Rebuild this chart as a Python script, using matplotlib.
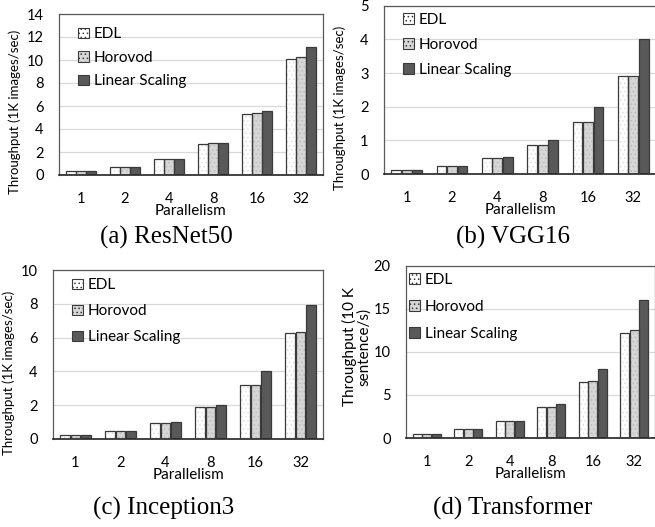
import numpy as np
import matplotlib.pyplot as plt
from matplotlib.patches import Patch

# Data
parallelism = ["1", "2", "4", "8", "16", "32"]

resnet_edl = [0.34, 0.69, 1.38, 2.70, 5.30, 10.10]
resnet_horovod = [0.34, 0.69, 1.38, 2.75, 5.35, 10.30]
resnet_linear = [0.35, 0.70, 1.40, 2.80, 5.55, 11.10]

vgg_edl = [0.125, 0.24, 0.48, 0.85, 1.55, 2.90]
vgg_horovod = [0.125, 0.24, 0.48, 0.85, 1.55, 2.92]
vgg_linear = [0.125, 0.25, 0.50, 1.00, 2.00, 4.00]

incep_edl = [0.25, 0.48, 0.97, 1.88, 3.22, 6.25]
incep_horovod = [0.25, 0.50, 0.97, 1.87, 3.20, 6.35]
incep_linear = [0.25, 0.50, 1.00, 2.00, 4.00, 7.90]

trans_edl = [0.50, 1.00, 1.95, 3.60, 6.50, 12.20]
trans_horovod = [0.50, 1.00, 1.95, 3.60, 6.65, 12.50]
trans_linear = [0.50, 1.00, 2.00, 4.00, 8.00, 16.00]

series_names = ["EDL", "Horovod", "Linear Scaling"]

plt.rcParams['font.family'] = ['Lato', 'DejaVu Sans']
plt.rcParams['hatch.linewidth'] = 0.6

fig = plt.figure(figsize=(6.55, 5.27), dpi=100)
W, H = 655.0, 527.0


def px_axes(left, top, right, bottom):
    return fig.add_axes([left / W, 1 - bottom / H, (right - left) / W, (bottom - top) / H])


styles = [
    dict(color="white", hatch="....", hatchcol="#e0e0e0"),
    dict(color="#d6d6d6", hatch="....", hatchcol="#bcbcbc"),
    dict(color="#595959", hatch=None, hatchcol="#595959"),
]


def draw_panel(ax, data, ymax, ystep, ylabel, caption, cap_x, cap_y,
               lab_x, lab_y, leg_dx, leg_dy, leg_sp, ylab_size=9.5):
    x = np.arange(len(parallelism))
    w = 0.215
    offs = [-0.232, 0.0, 0.232]
    for vals, st, off in zip(data, styles, offs):
        ax.bar(x + off, vals, w, color=st["color"], hatch=st["hatch"],
               edgecolor=st["hatchcol"], linewidth=0, zorder=2)
        ax.bar(x + off, vals, w, fill=False, edgecolor="#3a3a3a",
               linewidth=0.9, zorder=3)
    ax.set_xlim(-0.5, len(parallelism) - 0.5)
    ax.set_ylim(0, ymax)
    ax.set_yticks(np.arange(0, ymax + ystep / 2, ystep))
    ax.set_xticks(x)
    ax.set_xticklabels(parallelism)
    ax.tick_params(axis="both", length=0, labelsize=10.5, colors="black")
    ax.tick_params(axis="x", pad=12)
    ax.tick_params(axis="y", pad=11)
    ax.yaxis.grid(True, color="#d9d9d9", linewidth=0.9, zorder=0)
    ax.set_axisbelow(True)
    for s in ["left", "top", "right"]:
        ax.spines[s].set_color("#5a5a5a")
        ax.spines[s].set_linewidth(0.9)
    ax.spines["bottom"].set_color("#222222")
    ax.spines["bottom"].set_linewidth(1.2)
    ax.set_xlabel("Parallelism", fontsize=11, labelpad=-1)
    ax.set_ylabel(ylabel, fontsize=ylab_size, linespacing=1.0)
    ax.yaxis.set_label_coords(lab_x, lab_y)
    handles = [Patch(facecolor=st["color"], hatch=st["hatch"], edgecolor="#3a3a3a", linewidth=0.8)
               for st in styles]
    bb = ax.get_position()
    ax.legend(handles, series_names, loc="upper left", frameon=False,
              fontsize=11, labelspacing=leg_sp, handlelength=0.7, handleheight=0.7,
              handletextpad=0.3, borderaxespad=0.35,
              bbox_to_anchor=(leg_dx / (bb.width * W), 1 - leg_dy / (bb.height * H)))
    fig.text(cap_x / W, 1 - cap_y / H, caption,
             ha="center", va="center", fontsize=18, family="Liberation Serif")


ax_a = px_axes(59, 14, 323, 175)
draw_panel(ax_a, [resnet_edl, resnet_horovod, resnet_linear], 14, 2,
           "Throughput (1K images/sec)", "(a) ResNet50", 166, 237, -0.145, 0.39,
           8, 2, 0.62)

ax_b = px_axes(384, 5.7, 656, 174)
draw_panel(ax_b, [vgg_edl, vgg_horovod, vgg_linear], 5, 1,
           "Throughput (1K images/sec)", "(b) VGG16", 513, 237, -0.141, 0.39,
           8, -4, 0.72)

ax_c = px_axes(53, 270, 323, 439)
draw_panel(ax_c, [incep_edl, incep_horovod, incep_linear], 10, 2,
           "Throughput (1K images/sec)", "(c) Inception3", 164, 508, -0.141, 0.39,
           8, -3, 0.78)

ax_d = px_axes(406, 265.7, 655, 438)
draw_panel(ax_d, [trans_edl, trans_horovod, trans_linear], 20, 5,
           "Throughput (10 K\nsentence/s)", "(d) Transformer", 513, 508,
           -0.138, 0.53, -8, -4, 0.85, ylab_size=11)

fig.savefig("out.png", dpi=100)
